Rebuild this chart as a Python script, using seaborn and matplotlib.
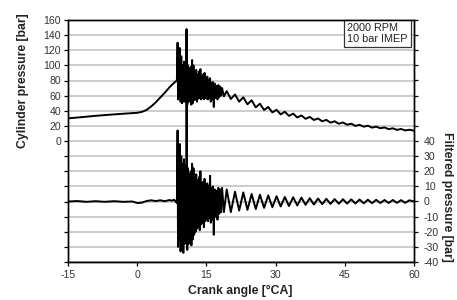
import matplotlib
matplotlib.use("Agg")
import matplotlib.pyplot as plt
import seaborn as sns
import pandas as pd

# ---- data ----
crank_angle = [
    -15, -13, -11, -9, -7, -5, -3, -1, 0, 1, 2, 3, 4, 5, 6, 7, 7.5, 8, 8.3, 8.6,
    8.75, 8.85, 8.95, 9.1, 9.25, 9.4, 9.55, 9.7, 9.85, 10.0, 10.15, 10.3, 10.45, 10.6,
    10.7, 10.85, 11.0, 11.15, 11.3, 11.45, 11.6, 11.75, 11.9, 12.05, 12.2, 12.35, 12.5,
    12.65, 12.8, 12.95, 13.1, 13.25, 13.4, 13.55, 13.7, 13.85, 14.0, 14.15, 14.3, 14.45,
    14.6, 14.75, 14.9, 15.05, 15.2, 15.35, 15.5, 15.65, 15.8, 15.95, 16.1, 16.25, 16.4,
    16.6, 16.8, 17.0, 17.2, 17.4, 17.6, 17.8, 18.0, 18.2, 18.4, 18.8, 19.4,
    20.3, 21.2, 22.1, 23.0, 23.9, 24.8, 25.7, 26.6, 27.5, 28.4, 29.3, 30.2, 31.1,
    32.0, 32.9, 33.8, 34.7, 35.6, 36.5, 37.4, 38.3, 39.2, 40.1, 41.0, 41.9, 42.8,
    43.7, 44.6, 45.5, 46.4, 47.3, 48.2, 49.1, 50.0, 50.9, 51.8, 52.7, 53.6, 54.5,
    55.4, 56.3, 57.2, 58.1, 59.0, 60.0,
]
cylinder_pressure = [
    30, 31, 32.2, 33.3, 34.3, 35.2, 36, 36.8, 37.3, 38.5, 41, 45.5, 51, 57.5, 64, 71, 74, 77, 78.5, 80,
    130, 55, 110, 60, 123, 52, 112, 50, 100, 52, 105, 52, 100, 54,
    148, 48, 100, 52, 96, 54, 98, 48, 107, 50, 100, 54, 92,
    55, 94, 52, 88, 56, 92, 57, 95, 55, 86, 57, 88, 55,
    90, 57, 84, 56, 85, 55, 80, 57, 83, 52, 77, 55, 78,
    45, 76, 57, 73, 55, 74, 58, 72, 60, 70, 59, 66,
    55.5, 61.5, 52, 57.8, 48.5, 53.8, 44.5, 49.3, 41, 45, 37.8, 41.3, 35.2,
    38.7, 33.2, 36.2, 31.1, 33.8, 29.3, 31.9, 27.8, 29.8, 26, 27.9, 24.3, 26.1,
    22.8, 24.5, 21.5, 22.9, 20, 21.4, 18.9, 20.2, 17.7, 19, 16.8, 17.9, 15.7,
    16.8, 14.7, 15.9, 14, 14.9, 13.6,
]
filtered_pressure = [
    0, 0.3, -0.2, 0.2, -0.2, 0.2, -0.2, 0, -1, -0.8, 0.3, 0.8, 0.3, 0.8, 0.2, 1.0, 0.5, 1.2, 0, -1,
    47, -30, 35, -26, 38, -33, 30, -28, 25, -34, 28, -28, 24, -25,
    113, -32, 22, -28, 18, -26, 20, -29, 25, -25, 22, -22, 16,
    -20, 18, -18, 14, -17, 16, -19, 20, -15, 12, -14, 13, -17,
    15, -13, 11, -12, 12, -13, 10, -11, 17, -14, 9, -12, 10,
    -22, 8, -10, 7, -12, 9, -8, 8, -7, 9, -7, 8,
    -7, 6.5, -6, 6, -5.5, 5, -5, 4.5, -4.2, 4, -3.8, 3.5, -3.3,
    3, -3, 2.8, -2.6, 2.6, -2.2, 2.2, -2, 2, -1.8, 1.8, -1.6, 1.6,
    -1.5, 1.5, -1.4, 1.4, -1.3, 1.3, -1.2, 1.2, -1.1, 1.1, -1, 1, -1,
    1, -0.9, 0.9, -0.9, 0.8, 0,
]
x_ticks = [-15, 0, 15, 30, 45, 60]
left_ticks = list(range(-160, 161, 20))
left_labels = [str(v) if v >= 0 else "" for v in left_ticks]
right_ticks = list(range(-40, 121, 10))
right_labels = [str(v) if v <= 40 else "" for v in right_ticks]

df = pd.DataFrame({"angle": crank_angle, "cyl": cylinder_pressure, "filt": filtered_pressure})

sns.set_style("white")
plt.rcParams["font.family"] = ["Liberation Sans", "DejaVu Sans"]

fig = plt.figure(figsize=(4.57, 3.00), dpi=100)
ax = fig.add_axes([68 / 457, 1 - 262 / 300, (414 - 68) / 457, (262 - 20) / 300])
ax2 = ax.twinx()

sns.lineplot(data=df, x="angle", y="cyl", ax=ax, color="black", lw=1.4,
             sort=False, estimator=None)
sns.lineplot(data=df, x="angle", y="filt", ax=ax2, color="black", lw=1.4,
             sort=False, estimator=None)

ax.set_xlim(-15, 60)
ax.set_ylim(-160, 160)
ax2.set_ylim(-40, 120)
ax.set_xticks(x_ticks)
ax.set_xticklabels([str(v) for v in x_ticks])
ax.set_yticks(left_ticks)
ax.set_yticklabels(left_labels)
ax2.set_yticks(right_ticks)
ax2.set_yticklabels(right_labels)

ax.grid(axis="y", color="#c8c8c8", lw=1.3)
ax.set_axisbelow(True)
for a in (ax, ax2):
    for s in a.spines.values():
        s.set_color("black")
        s.set_linewidth(1.0)
    a.tick_params(length=3, width=0.9, color="black", labelsize=7.6,
                  labelcolor="#333333", pad=2)
ax.tick_params(axis="x", bottom=True, pad=3)
ax.tick_params(axis="y", left=True)
ax2.tick_params(axis="y", right=True, pad=4)

ax.set_xlabel("")
ax.set_ylabel("")
ax2.set_ylabel("")

fig.text(240 / 457, 1 - 291 / 300, "Crank angle [°CA]", ha="center", va="center",
         fontsize=8.8, fontweight="bold", color="#222222")
fig.text(23 / 457, 1 - 81 / 300, "Cylinder pressure [bar]", ha="center", va="center",
         rotation=90, fontsize=8.8, fontweight="bold", color="#222222")
fig.text(447 / 457, 1 - 197 / 300, "Filtered pressure [bar]", ha="center", va="center",
         rotation=270, fontsize=8.8, fontweight="bold", color="#222222")

ax.text((347 - 68) / 346, 0.986, "2000 RPM\n10 bar IMEP", transform=ax.transAxes,
        ha="left", va="top", fontsize=7.8, color="#222222", linespacing=1.1,
        bbox=dict(boxstyle="square,pad=0.3", fc="white", ec="#333333", lw=0.9))

fig.savefig("out.png", dpi=100)
